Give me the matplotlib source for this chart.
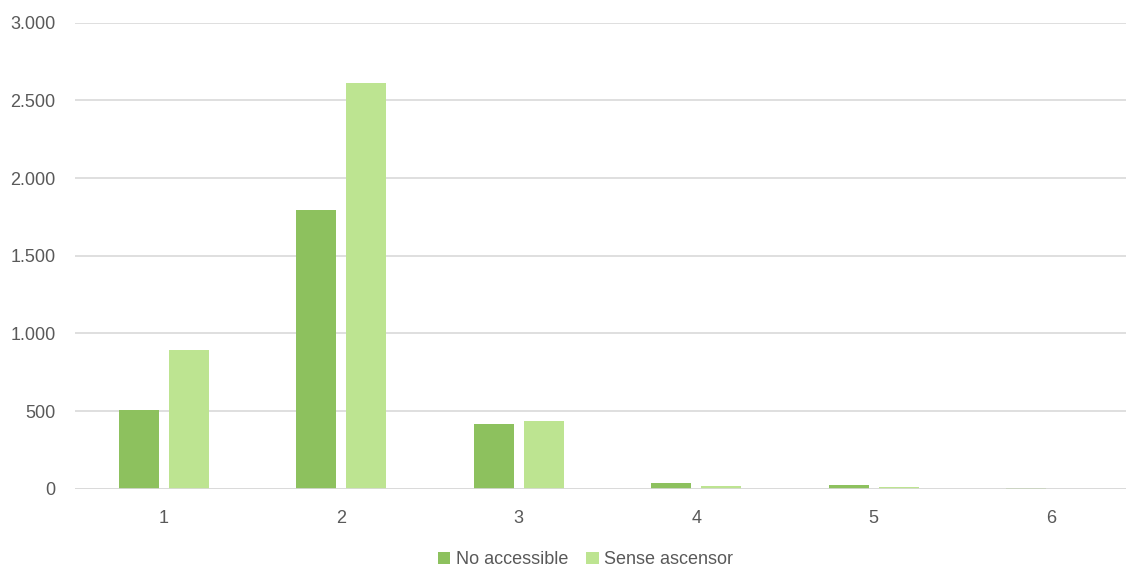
import numpy as np
import matplotlib
matplotlib.use("Agg")
import matplotlib.pyplot as plt
from matplotlib.ticker import FuncFormatter

# data
categories = ["1", "2", "3", "4", "5", "6"]
no_accessible = [507, 1795, 414, 37, 24, 6]
sense_ascensor = [893, 2611, 433, 19, 13, 1]

dark = "#8DC15E"
light = "#BDE491"
text_col = "#595959"

plt.rcParams['font.family'] = ['Liberation Sans Narrow', 'Liberation Sans', 'DejaVu Sans']

fig = plt.figure(figsize=(11.26, 5.72), dpi=100)
ax = fig.add_axes([75 / 1126, (572 - 488.7) / 572, 1 - 75 / 1126, 466 / 572])

x = np.arange(1, len(categories) + 1)
w = 0.225
off = 0.141
ax.bar(x - off, no_accessible, width=w, color=dark, label="No accessible", zorder=3)
ax.bar(x + off, sense_ascensor, width=w, color=light, label="Sense ascensor", zorder=3)

ax.set_xlim(0.5, 0.5 + (1126 - 75) / 177.5)
ax.set_ylim(0, 3000)
ax.set_yticks(range(0, 3001, 500))
ax.yaxis.set_major_formatter(FuncFormatter(lambda v, p: f"{int(v):,}".replace(",", ".")))
ax.set_xticks(x)
ax.set_xticklabels(categories)

ax.grid(axis='y', color="#D9D9D9", linewidth=1.2, zorder=0)
for s in ax.spines.values():
    s.set_visible(False)
ax.axhline(0, color="#D9D9D9", linewidth=1.2, zorder=4)
ax.tick_params(length=0, labelsize=13, colors=text_col)
ax.tick_params(axis='x', pad=15)
ax.tick_params(axis='y', pad=14)

fig.legend(loc="lower center", bbox_to_anchor=(0.52, -0.022), ncol=2, frameon=False,
           fontsize=13, labelcolor=text_col, handlelength=0.7, handleheight=0.7,
           handletextpad=0.3, columnspacing=1.0)

fig.savefig("out.png", dpi=100)
